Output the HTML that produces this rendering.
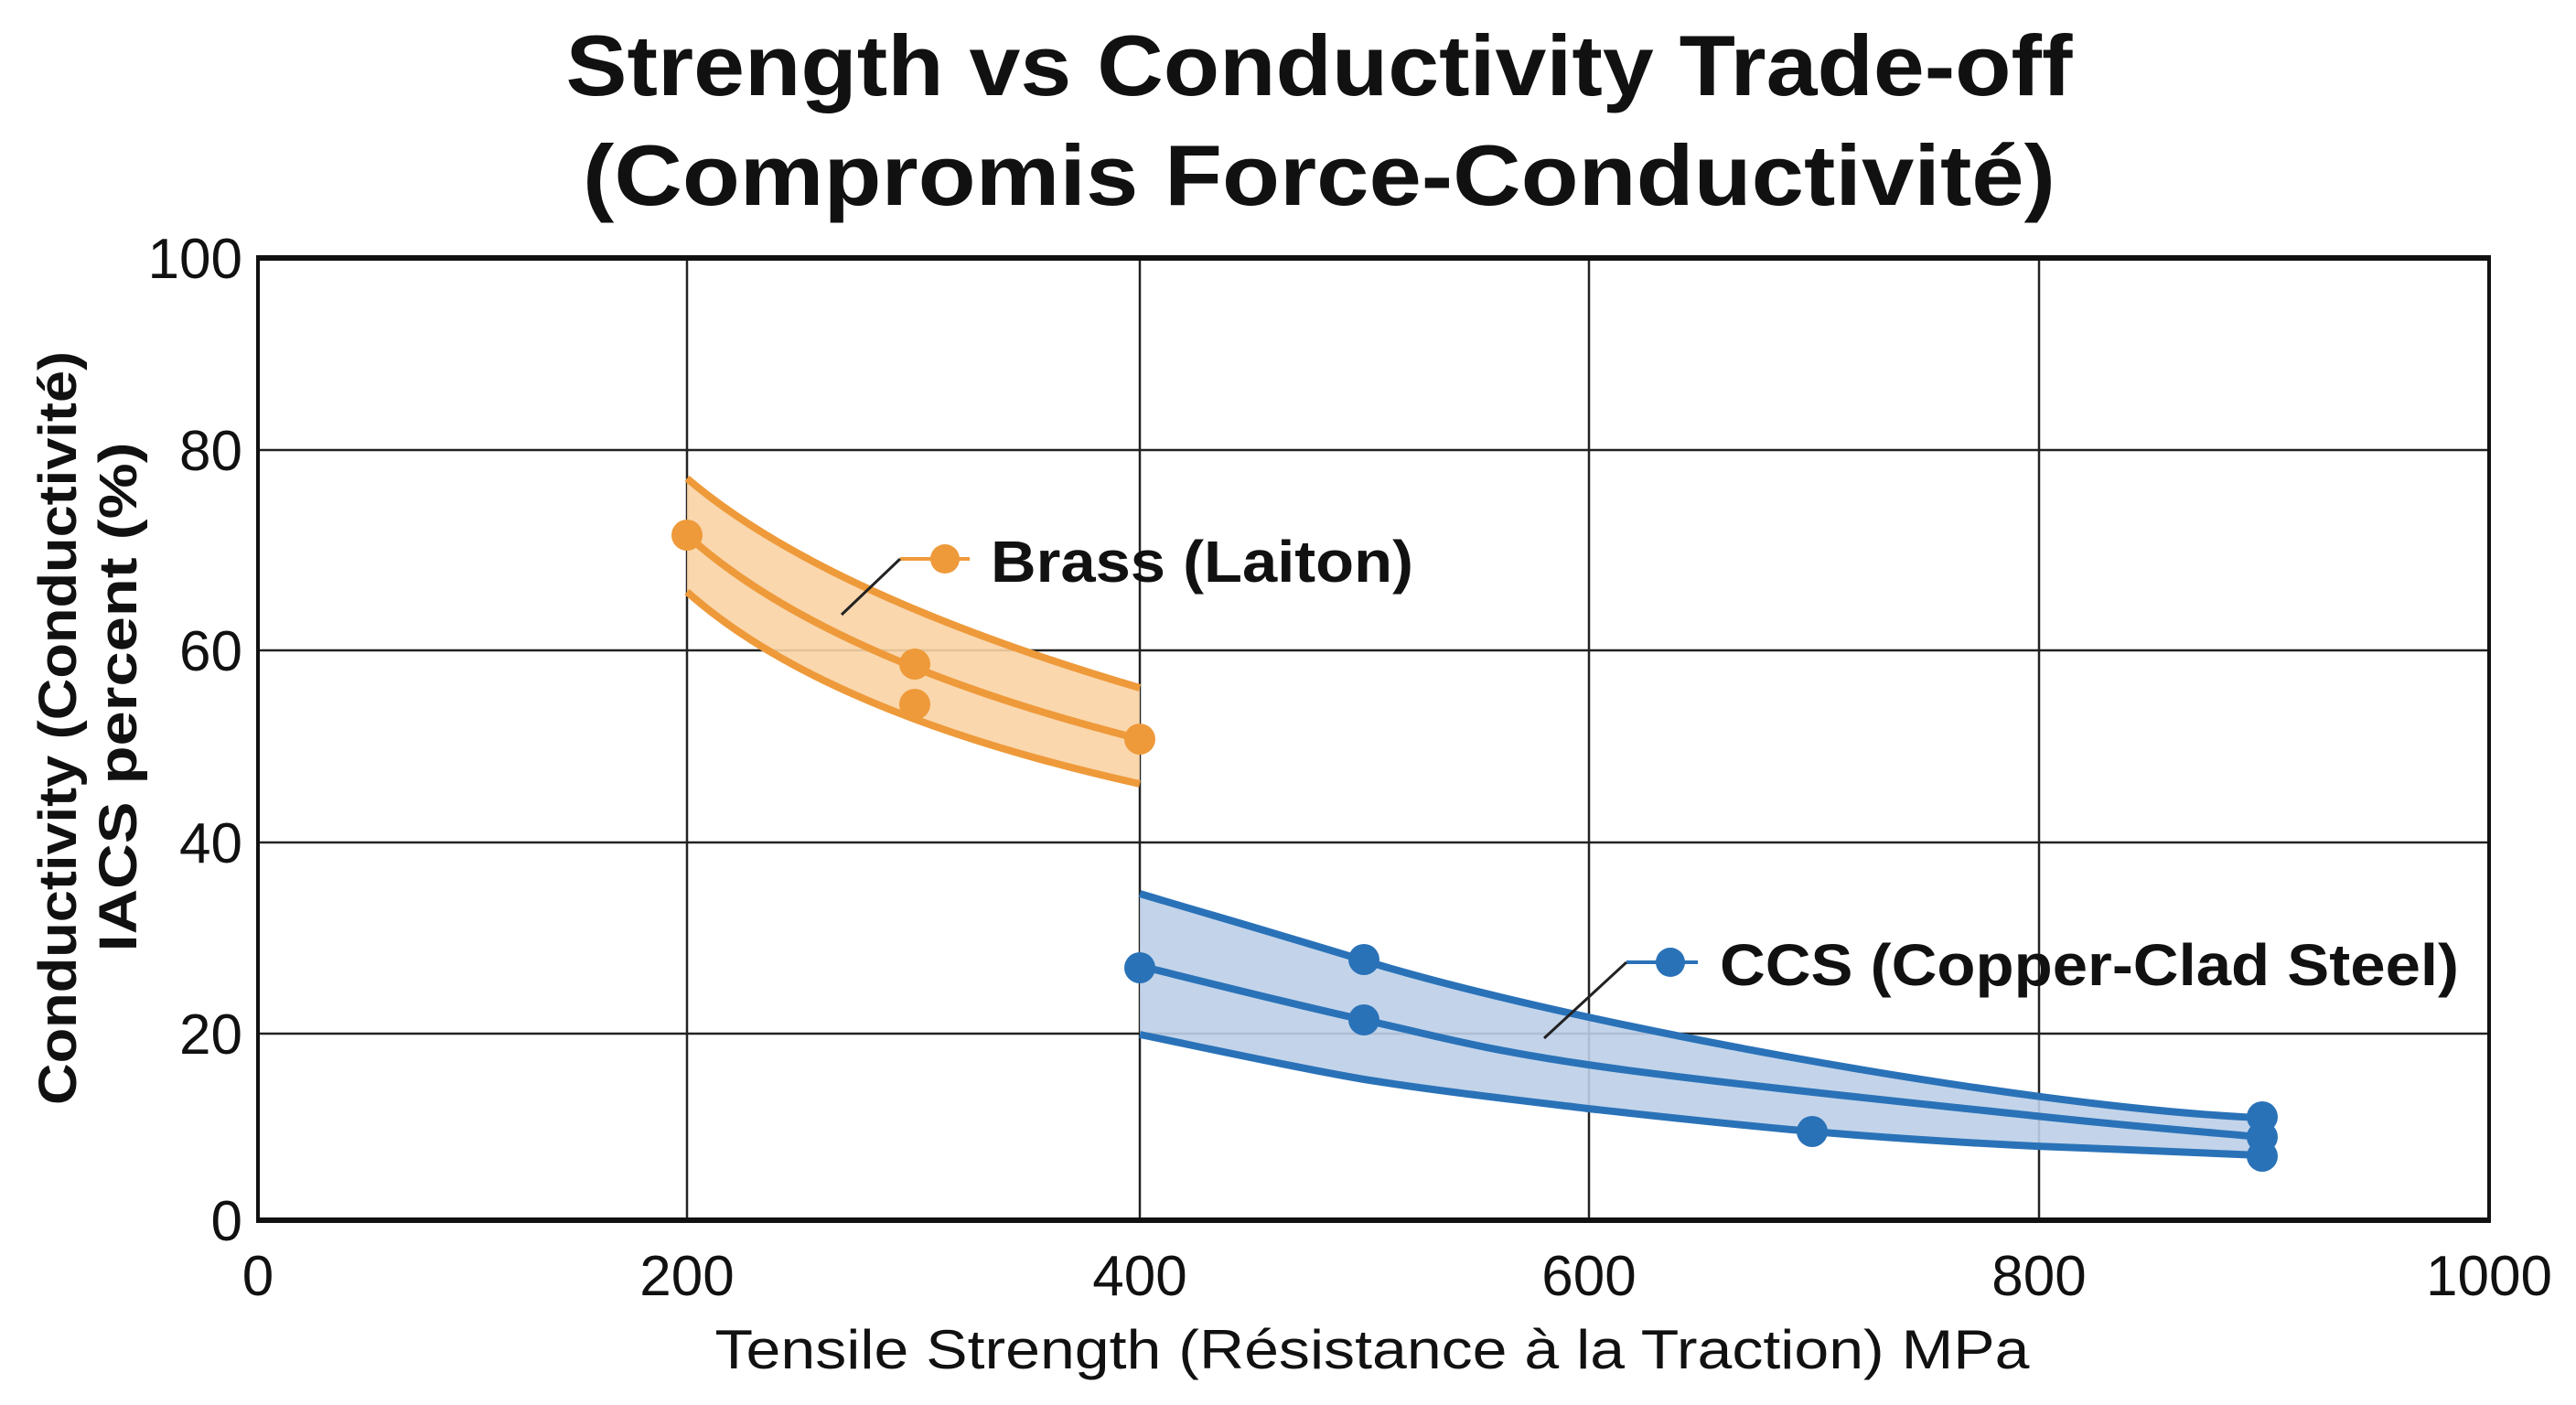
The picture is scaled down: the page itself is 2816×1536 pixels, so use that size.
<!DOCTYPE html>
<html><head><meta charset="utf-8"><style>html,body{margin:0;padding:0;background:#fff}svg{display:block}</style></head>
<body>
<svg width="2816" height="1536" viewBox="0 0 2816 1536" xmlns="http://www.w3.org/2000/svg" font-family="Liberation Sans, Arial, sans-serif">
<rect width="2816" height="1536" fill="#fff"/>
<text x="1442" y="104" text-anchor="middle" font-size="94" font-weight="bold" fill="#111" textLength="1647" lengthAdjust="spacingAndGlyphs">Strength vs Conductivity Trade-off</text>
<text x="1442" y="224" text-anchor="middle" font-size="94" font-weight="bold" fill="#111" textLength="1610" lengthAdjust="spacingAndGlyphs">(Compromis Force-Conductivité)</text>
<g stroke="#222" stroke-width="2.5">
<line x1="751" y1="282" x2="751" y2="1334"/><line x1="1246" y1="282" x2="1246" y2="1334"/>
<line x1="1737" y1="282" x2="1737" y2="1334"/><line x1="2229" y1="282" x2="2229" y2="1334"/>
<line x1="282" y1="492" x2="2721" y2="492"/><line x1="282" y1="711" x2="2721" y2="711"/>
<line x1="282" y1="921" x2="2721" y2="921"/><line x1="282" y1="1130" x2="2721" y2="1130"/>
</g>
<g stroke="#111" fill="none">
<line x1="280" y1="282" x2="2723" y2="282" stroke-width="6"/>
<line x1="280" y1="1334" x2="2723" y2="1334" stroke-width="6"/>
<line x1="282" y1="280" x2="282" y2="1336" stroke-width="4"/>
<line x1="2721" y1="280" x2="2721" y2="1336" stroke-width="4"/>
</g>
<!-- Brass -->
<path d="M751,523 Q900,650 1246,752 L1246,857 Q900,780 751,647 Z" fill="#f9d3a4" opacity="0.9"/>
<g stroke="#ee9a3a" stroke-width="8" fill="none">
<path d="M751,523 Q900,650 1246,752"/><path d="M751,585 Q900,720 1246,808"/><path d="M751,647 Q900,780 1246,857"/>
</g>
<g fill="#ee9a3a"><circle cx="751" cy="585" r="17"/><circle cx="1000" cy="726" r="17"/><circle cx="1000" cy="770" r="17"/><circle cx="1246" cy="808" r="17"/></g>
<line x1="984" y1="611" x2="1060" y2="611" stroke="#ee9a3a" stroke-width="4"/>
<line x1="984" y1="611" x2="920" y2="672" stroke="#222" stroke-width="3"/>
<circle cx="1033" cy="611" r="16" fill="#ee9a3a"/>
<text x="1083" y="636" font-size="64" font-weight="bold" fill="#111" textLength="462" lengthAdjust="spacingAndGlyphs">Brass (Laiton)</text>
<!-- CCS -->
<path d="M1246,977 C1330,1002 1410,1025 1491,1050 C1700,1115 2200,1210 2470,1222 L2470,1263 C2429,1261 2307,1256 2225,1253 C2143,1249 2063,1244 1981,1237 C1899,1230 1818,1221 1736,1212 C1654,1202 1573,1193 1491,1180 C1409,1166 1287,1139 1246,1131 Z" fill="#bccfe8" opacity="0.9"/>
<g stroke="#2a72b8" stroke-width="8" fill="none" stroke-linejoin="round">
<path d="M1246,977 C1330,1002 1410,1025 1491,1050 C1700,1115 2200,1210 2470,1222"/>
<path d="M1246,1056 C1287,1066 1409,1097 1491,1115 C1573,1133 1614,1146 1736,1164 C1858,1182 2103,1207 2225,1220 C2347,1233 2429,1239 2470,1243"/>
<path d="M1246,1131 C1287,1139 1409,1166 1491,1180 C1573,1193 1654,1202 1736,1212 C1818,1221 1899,1230 1981,1237 C2063,1244 2143,1249 2225,1253 C2307,1256 2429,1261 2470,1263"/>
</g>
<g fill="#2a72b8"><circle cx="1246" cy="1058" r="17"/><circle cx="1491" cy="1049" r="17"/><circle cx="1491" cy="1115" r="17"/><circle cx="1981" cy="1237" r="17"/><circle cx="2473" cy="1221" r="17"/><circle cx="2473" cy="1243" r="17"/><circle cx="2473" cy="1264" r="17"/></g>
<line x1="1778" y1="1052" x2="1856" y2="1052" stroke="#2a72b8" stroke-width="4"/>
<line x1="1778" y1="1052" x2="1688" y2="1135" stroke="#222" stroke-width="3"/>
<circle cx="1826" cy="1052" r="16" fill="#2a72b8"/>
<text x="1880" y="1077" font-size="64" font-weight="bold" fill="#111" textLength="808" lengthAdjust="spacingAndGlyphs">CCS (Copper-Clad Steel)</text>
<!-- ticks -->
<g font-size="62" fill="#111" text-anchor="end">
<text x="265" y="304">100</text><text x="265" y="514">80</text><text x="265" y="733">60</text>
<text x="265" y="943">40</text><text x="265" y="1152">20</text><text x="265" y="1356">0</text>
</g>
<g font-size="62" fill="#111" text-anchor="middle">
<text x="282" y="1416">0</text><text x="751" y="1416">200</text><text x="1246" y="1416">400</text>
<text x="1737" y="1416">600</text><text x="2229" y="1416">800</text><text x="2721" y="1416">1000</text>
</g>
<text x="1500" y="1496" text-anchor="middle" font-size="60" fill="#111" textLength="1437" lengthAdjust="spacingAndGlyphs">Tensile Strength (Résistance à la Traction) MPa</text>
<text transform="translate(83,796) rotate(-90)" text-anchor="middle" font-size="58" font-weight="bold" fill="#111" textLength="824" lengthAdjust="spacingAndGlyphs">Conductivity (Conductivité)</text>
<text transform="translate(149,762) rotate(-90)" text-anchor="middle" font-size="58" font-weight="bold" fill="#111" textLength="557" lengthAdjust="spacingAndGlyphs">IACS percent (%)</text>
</svg>
</body></html>
